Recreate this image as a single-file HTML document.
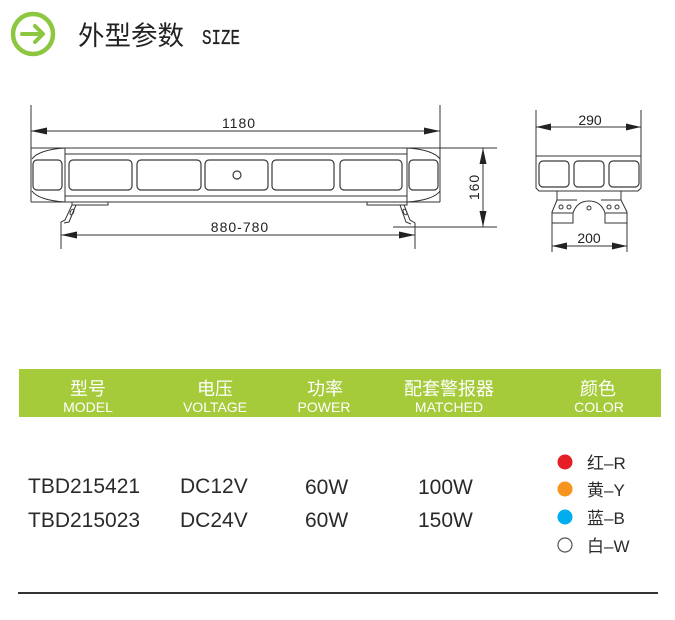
<!DOCTYPE html>
<html>
<head>
<meta charset="utf-8">
<style>
html,body{margin:0;padding:0;background:#fff;}
svg{display:block;}
</style>
</head>
<body>
<svg width="675" height="620" viewBox="0 0 675 620" xmlns="http://www.w3.org/2000/svg">
  <rect x="0" y="0" width="675" height="620" fill="#fff"/>

  <!-- Header -->
  <circle cx="33" cy="34" r="20" fill="none" stroke="#8dc63f" stroke-width="4.5"/>
  <line x1="22" y1="34" x2="42" y2="34" stroke="#8dc63f" stroke-width="4" stroke-linecap="round"/>
  <polyline points="35,26 43,34 35,42" fill="none" stroke="#8dc63f" stroke-width="4" stroke-linecap="round" stroke-linejoin="round"/>
  <text x="78" y="45" font-family="'Liberation Sans','Noto Sans CJK SC',sans-serif" font-size="26.5" fill="#222">外型参数</text>
  <text x="202" y="44" font-family="'Liberation Mono',monospace" font-size="21.5" fill="#222" stroke="#222" stroke-width="0.3" textLength="38" lengthAdjust="spacingAndGlyphs">SIZE</text>

  <!-- Front view -->
  <g stroke="#333" stroke-width="1" fill="none">
    <line x1="31" y1="105" x2="31" y2="202"/>
    <line x1="440" y1="105" x2="440" y2="202"/>
    <line x1="31" y1="131" x2="440" y2="131"/>
    <line x1="31" y1="148" x2="497" y2="148"/>
    <line x1="65" y1="154" x2="407" y2="154"/>
    <line x1="65" y1="196" x2="407" y2="196"/>
    <line x1="31" y1="202" x2="440" y2="202"/>
    <line x1="65" y1="148" x2="65" y2="202"/>
    <line x1="407" y1="148" x2="407" y2="202"/>
    <path d="M65,148 C48,149 36,153 32,159"/>
    <path d="M32,191 C36,197 48,201 65,202"/>
    <path d="M407,148 C424,149 436,153 440,159"/>
    <path d="M440,191 C436,197 424,201 407,202"/>
  </g>
  <g stroke="#3a3a3a" stroke-width="1.2" fill="none">
    <rect x="33" y="160" width="29" height="30" rx="4"/>
    <rect x="409" y="160" width="29" height="30" rx="4"/>
    <rect x="69" y="160" width="63" height="30" rx="4"/>
    <rect x="137" y="160" width="64" height="30" rx="4"/>
    <rect x="205" y="160" width="63" height="30" rx="4"/>
    <rect x="272" y="160" width="62" height="30" rx="4"/>
    <rect x="340" y="160" width="62" height="30" rx="4"/>
    <circle cx="237" cy="175" r="4"/>
  </g>
  <!-- brackets -->
  <g stroke="#333" stroke-width="1" fill="none">
    <rect x="72" y="202" width="36" height="3"/>
    <path d="M72,205 L65,220 L61,222 L61,249"/>
    <path d="M76,205 L69,222 L64,223"/>
    <ellipse cx="72" cy="212" rx="1.6" ry="3" transform="rotate(25 72 212)"/>
    <rect x="367" y="202" width="40" height="3"/>
    <path d="M404,205 L410,220 L415,223 L415,249"/>
    <path d="M400,205 L406,222 L411,224"/>
    <ellipse cx="405" cy="212" rx="1.6" ry="3" transform="rotate(-25 405 212)"/>
    <line x1="61" y1="235" x2="415" y2="235"/>
    <line x1="393" y1="227" x2="497" y2="227"/>
    <line x1="483" y1="148" x2="483" y2="227"/>
  </g>
  <g fill="#222">
    <polygon points="31,131 47,127.5 47,134.5"/>
    <polygon points="440,131 424,127.5 424,134.5"/>
    <polygon points="61,235 77,231.5 77,238.5"/>
    <polygon points="415,235 399,231.5 399,238.5"/>
    <polygon points="483,148 479.5,164 486.5,164"/>
    <polygon points="483,227 479.5,211 486.5,211"/>
  </g>
  <g font-family="'Liberation Sans',sans-serif" font-size="14" fill="#222">
    <text x="239" y="128" text-anchor="middle" letter-spacing="1">1180</text>
    <text x="240" y="232" text-anchor="middle" letter-spacing="1">880-780</text>
    <text x="0" y="0" text-anchor="middle" transform="translate(479 187) rotate(-90)" letter-spacing="1">160</text>
  </g>

  <!-- Side view -->
  <g stroke="#333" stroke-width="1" fill="none">
    <line x1="536" y1="110" x2="536" y2="157"/>
    <line x1="641" y1="110" x2="641" y2="157"/>
    <line x1="536" y1="127" x2="641" y2="127"/>
    <path d="M536,156 L641,156 L641,188 L638,191 L539,191 L536,188 Z"/>
    <path d="M557,191 L557,200 L552,212 L552,223 L573,223 L573,213 Q577,201 589,201 Q601,201 605,213 L605,223 L627,223 L627,212 L621,200 L621,191"/>
    <line x1="557" y1="200" x2="577" y2="200"/>
    <line x1="601" y1="200" x2="621" y2="200"/>
    <line x1="552" y1="213" x2="573" y2="213"/>
    <line x1="605" y1="213" x2="627" y2="213"/>
    <circle cx="561" cy="207" r="2"/>
    <circle cx="569" cy="207" r="2"/>
    <circle cx="609" cy="207" r="2"/>
    <circle cx="617" cy="207" r="2"/>
    <circle cx="589" cy="208" r="2"/>
    <line x1="552" y1="223" x2="552" y2="252"/>
    <line x1="627" y1="223" x2="627" y2="252"/>
    <line x1="552" y1="246" x2="627" y2="246"/>
  </g>
  <g stroke="#3a3a3a" stroke-width="1.2" fill="none">
    <rect x="539" y="161" width="30" height="26" rx="4"/>
    <rect x="574" y="161" width="30" height="26" rx="4"/>
    <rect x="609" y="161" width="30" height="26" rx="4"/>
  </g>
  <g fill="#222">
    <polygon points="536,127 551,123.5 551,130.5"/>
    <polygon points="641,127 626,123.5 626,130.5"/>
    <polygon points="552,246 567,242.5 567,249.5"/>
    <polygon points="627,246 612,242.5 612,249.5"/>
  </g>
  <g font-family="'Liberation Sans',sans-serif" font-size="14" fill="#222">
    <text x="590" y="125" text-anchor="middle">290</text>
    <text x="589" y="243" text-anchor="middle">200</text>
  </g>

  <!-- Table header -->
  <rect x="19" y="369" width="642" height="48" fill="#a5ca3a"/>
  <g font-family="'Liberation Sans','Noto Sans CJK SC',sans-serif" font-size="18" fill="#fff" text-anchor="middle">
    <text x="88" y="395">型号</text>
    <text x="215" y="395">电压</text>
    <text x="325" y="395">功率</text>
    <text x="449" y="395">配套警报器</text>
    <text x="598" y="395">颜色</text>
  </g>
  <g font-family="'Liberation Sans',sans-serif" font-size="14" fill="#fff" text-anchor="middle">
    <text x="88" y="412">MODEL</text>
    <text x="215" y="412">VOLTAGE</text>
    <text x="324" y="412">POWER</text>
    <text x="449" y="412">MATCHED</text>
    <text x="599" y="412">COLOR</text>
  </g>

  <!-- Table data -->
  <g font-family="'Liberation Sans',sans-serif" font-size="21" fill="#2a2a2a">
    <text x="28" y="493">TBD215421</text>
    <text x="180" y="493">DC12V</text>
    <text x="305" y="494">60W</text>
    <text x="418" y="494">100W</text>
    <text x="28" y="527">TBD215023</text>
    <text x="180" y="527">DC24V</text>
    <text x="305" y="527">60W</text>
    <text x="418" y="527">150W</text>
  </g>

  <!-- Colors -->
  <circle cx="565" cy="462" r="7.5" fill="#e31e24"/>
  <circle cx="565" cy="489" r="7.5" fill="#f7941d"/>
  <circle cx="565" cy="517" r="7.5" fill="#00aeef"/>
  <circle cx="565" cy="545" r="7" fill="#fff" stroke="#555" stroke-width="1.2"/>
  <g font-family="'Liberation Sans','Noto Sans CJK SC',sans-serif" font-size="17" fill="#2a2a2a">
    <text x="587" y="469">红–R</text>
    <text x="587" y="496">黄–Y</text>
    <text x="587" y="524">蓝–B</text>
    <text x="587" y="552">白–W</text>
  </g>

  <!-- Bottom line -->
  <line x1="18" y1="593" x2="658" y2="593" stroke="#333" stroke-width="2"/>
</svg>
</body>
</html>
